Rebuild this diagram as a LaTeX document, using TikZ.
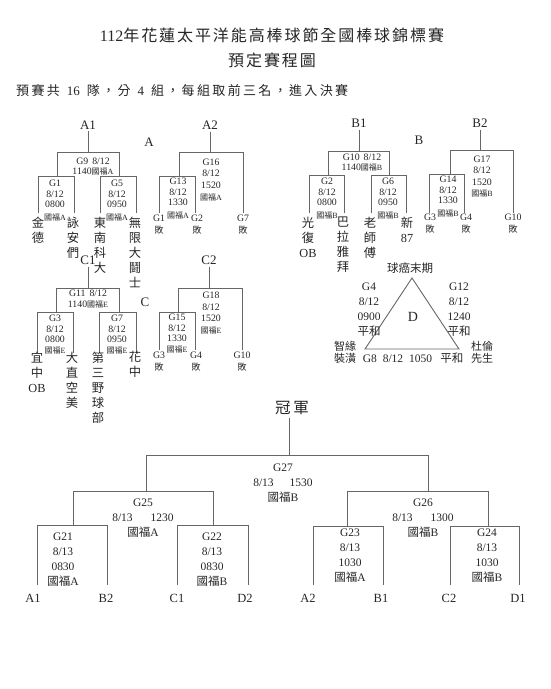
\documentclass[tikz,border=0pt]{standalone}
\usepackage{fontspec}
\setmainfont{Liberation Serif}
\newfontfamily\cjk{Noto Sans CJK TC}
\newfontfamily\cjkw{Noto Sans CJK TC}[LetterSpace=18]
\newfontfamily\cjkt{Noto Sans CJK TC}[LetterSpace=12]
\newcommand\sz[2]{\fontsize{#1}{#2}\selectfont}
\newcommand\GF[1]{{\cjk 國福}#1}
\newcommand\brk[6]{%
  \coordinate (#1-l) at (#2,#4);
  \coordinate (#1-r) at (#3,#4);
  \coordinate (#1-lb) at (#2,#5);
  \coordinate (#1-rb) at (#3,#6);
  \draw[ln] (#1-lb) -- (#1-l) -- (#1-r) -- (#1-rb);}
\newcommand\bai{{\cjk\sz{9}{12}敗}}
\begin{document}
\begin{tikzpicture}[x=1pt,y=-1pt,
  every node/.style={inner sep=0pt,text=black!85},
  ln/.style={draw=black!60,line width=0.9pt},
  gm/.style={font=\sz{9.8}{10.7},align=center,anchor=north},
  gs/.style={font=\sz{9.8}{12},align=center,anchor=north},
  tm/.style={font={\cjk\sz{12.3}{15}},align=center,anchor=north},
  fin/.style={font=\sz{11.5}{15},align=center,anchor=north},
  lab/.style={font=\sz{12.5}{14}},
  grp/.style={font=\sz{13}{15}},
  dt/.style={font=\sz{11.5}{14.7},align=center,anchor=north}]
\useasboundingbox[fill=white] (0,0) rectangle (550,689);

% titles
\node[font=\sz{16}{18}] (t1) at (272,35) {112{\cjkt 年花蓮太平洋能高棒球節全國棒球錦標賽}};
\node[font={\cjkt\sz{16}{18}}] (t2) at (272,60) {預定賽程圖};
\node[font={\cjkw\sz{13}{15}},anchor=west] (t3) at (16,91) {預賽共\hspace{7pt}{\rmfamily 16}\hspace{7pt}隊，分\hspace{7pt}{\rmfamily 4}\hspace{7pt}組，每組取前三名，進入決賽};

% ---------------- group A
\node[grp] (A1) at (88,125) {A1};
\node[grp] (A) at (149,142) {A};
\brk{G9}{57}{119}{152}{176}{176}
\draw[ln,shorten <=2pt] (A1.south) -- (A1.south |- G9-l);
\brk{G1}{38}{74}{176}{213}{213}
\brk{G5}{100}{136}{176}{213}{213}
\node[gm] (g9) at (93,157.5) {G9\hspace{4pt}8/12\\1140{\sz{8}{9}\GF{A}}};
\node[gm] (g1) at (55,179.8) {G1\\8/12\\0800\\[1.8pt]{\sz{8}{9}\GF{A}}};
\node[gm] (g5) at (117,179.8) {G5\\8/12\\0950\\[1.8pt]{\sz{8}{9}\GF{A}}};
\node[tm] (tJD) at (38,216.5) {金\\德};
\node[tm] (tYA) at (73,216.5) {詠\\安\\們};
\node[tm] (tDN) at (100,216.5) {東\\南\\科\\大};
\node[tm] (tWX) at (135,216.5) {無\\限\\大\\鬪\\士};

\node[grp] (A2) at (210,125) {A2};
\brk{G16}{179}{243}{152}{176}{213}
\draw[ln,shorten <=2pt] (A2.south) -- (A2.south |- G16-l);
\brk{G13}{159}{195}{176}{213}{213}
\node[gm,font=\sz{9.8}{11.3}] (g16) at (211,158.8) {G16\\8/12\\1520\\[0.8pt]{\sz{8}{9}\GF{A}}};
\node[gm] (g13) at (178,177.8) {G13\\8/12\\1330\\[1.8pt]{\sz{8}{9}\GF{A}}};
\node[gs] (la1) at (159,214.8) {G1\\\bai};
\node[gs] (la2) at (197,214.8) {G2\\\bai};
\node[gs] (la7) at (243,214.8) {G7\\\bai};

% ---------------- group B
\node[grp] (B1) at (359,123) {B1};
\node[grp] (B) at (419,140) {B};
\brk{G10}{328}{389}{151}{175}{175}
\draw[ln,shorten <=2pt] (B1.south) -- (B1.south |- G10-l);
\brk{G2}{309}{344}{175}{213}{213}
\brk{G6}{371}{406}{175}{213}{213}
\node[gm] (g10) at (362,153.5) {G10\hspace{4pt}8/12\\1140{\sz{8}{9}\GF{B}}};
\node[gm] (g2) at (327,177.8) {G2\\8/12\\0800\\[1.8pt]{\sz{8}{9}\GF{B}}};
\node[gm] (g6) at (388,177.8) {G6\\8/12\\0950\\[1.8pt]{\sz{8}{9}\GF{B}}};
\node[tm] (tGF) at (308,216.5) {光\\復\\{\rmfamily OB}};
\node[tm] (tBL) at (343,216.5) {巴\\拉\\雅\\拜};
\node[tm] (tLS) at (370,216.5) {老\\師\\傅};
\node[tm] (tX87) at (407,216.5) {新\\{\rmfamily 87}};

\node[grp] (B2) at (480,123) {B2};
\brk{G17}{450}{513}{150}{174}{213}
\draw[ln,shorten <=2pt] (B2.south) -- (B2.south |- G17-l);
\brk{G14}{429}{464}{174}{213}{213}
\node[gm,font=\sz{9.8}{11.3}] (g17) at (482,155.8) {G17\\8/12\\1520\\{\sz{8}{9}\GF{B}}};
\node[gm] (g14) at (448,175.8) {G14\\8/12\\1330\\[1.8pt]{\sz{8}{9}\GF{B}}};
\node[gs] (lb3) at (430,213.8) {G3\\\bai};
\node[gs] (lb4) at (466,213.8) {G4\\\bai};
\node[gs] (lb10) at (513,213.8) {G10\\\bai};

% ---------------- group C
\node[grp] (C1) at (88,260) {C1};
\node[grp] (C) at (145,302) {C};
\brk{G11}{56}{119}{288}{312}{312}
\draw[ln,shorten <=2pt] (C1.south) -- (C1.south |- G11-l);
\brk{G3}{37}{73}{312}{353}{353}
\brk{G7}{99}{136}{312}{353}{353}
\node[gm] (g11) at (88,289.8) {G11\hspace{4pt}8/12\\1140{\sz{8}{9}\GF{E}}};
\node[gm] (g3) at (55,314.8) {G3\\8/12\\0800\\{\sz{8}{9}\GF{E}}};
\node[gm] (g7) at (117,314.8) {G7\\8/12\\0950\\{\sz{8}{9}\GF{E}}};
\node[tm] (tYZ) at (37,351.5) {宜\\中\\{\rmfamily OB}};
\node[tm] (tDZ) at (72,351.5) {大\\直\\空\\美};
\node[tm] (tDS) at (98,351.5) {第\\三\\野\\球\\部};
\node[tm] (tHZ) at (135,350.5) {花\\中};

\node[grp] (C2) at (209,260) {C2};
\brk{G18}{178}{242}{288}{312}{350}
\draw[ln,shorten <=2pt] (C2.south) -- (C2.south |- G18-l);
\brk{G15}{159}{195}{312}{350}{350}
\node[gm,font=\sz{9.8}{11.7}] (g18) at (211,291.8) {G18\\8/12\\1520\\{\sz{8}{9}\GF{E}}};
\node[gm] (g15) at (177,313.8) {G15\\8/12\\1330\\{\sz{8}{9}\GF{E}}};
\node[gs] (lc3) at (159,351.8) {G3\\\bai};
\node[gs] (lc4) at (196,351.8) {G4\\\bai};
\node[gs] (lc10) at (242,351.8) {G10\\\bai};

% ---------------- group D
\coordinate (Dt) at (412,278);
\coordinate (Dl) at (365,349);
\coordinate (Dr) at (459,349);
\draw[ln] (Dt) -- (Dl) -- (Dr) -- cycle;
\node[font={\cjk\sz{11.5}{14}}] (tQA) at (410,268) {球癌末期};
\node[dt] (g4) at (369,283.1) {G4\\8/12\\0900\\{\cjk 平和}};
\node[dt] (g12) at (459,283.1) {G12\\8/12\\1240\\{\cjk 平和}};
\node[font=\sz{14}{16}] (Dn) at (413,317) {D};
\node[font={\cjk\sz{11}{12}},align=center] (tZY) at (345,352.5) {智緣\\裝潢};
\node[font=\sz{11.5}{14}] (g8) at (413,358) {G8\hspace{6pt}8/12\hspace{6pt}1050\hspace{8pt}{\cjk 平和}};
\node[font={\cjk\sz{11}{12}},align=center] (tDL) at (482,352.5) {杜倫\\先生};

% ---------------- finals
\node[font={\cjkw\sz{15.5}{18}}] (champ) at (292,408) {冠軍};
\brk{G27}{146}{428}{455}{491}{491}
\coordinate (G27-m) at (289,455);
\draw[ln,shorten <=3pt] (G27-m |- champ.south) -- (G27-m);
\brk{G25}{73}{213}{491}{525}{525}
\brk{G26}{347}{488}{491}{526}{526}
\brk{G21}{37}{107}{525}{585}{585}
\brk{G22}{177}{248}{525}{585}{585}
\brk{G23}{313}{383}{526}{585}{585}
\brk{G24}{450}{519}{526}{585}{585}
\node[fin] (g27) at (283,464) {G27\\8/13\hspace{16pt}1530\\\GF{B}};
\node[fin] (g25) at (143,499) {G25\\8/13\hspace{18pt}1230\\\GF{A}};
\node[fin] (g26) at (423,499) {G26\\8/13\hspace{18pt}1300\\\GF{B}};
\node[fin] (g21) at (63,533) {G21\\8/13\\0830\\\GF{A}};
\node[fin] (g22) at (212,533) {G22\\8/13\\0830\\\GF{B}};
\node[fin] (g23) at (350,529) {G23\\8/13\\1030\\\GF{A}};
\node[fin] (g24) at (487,529) {G24\\8/13\\1030\\\GF{B}};
\node[lab] (fA1) at (33,598) {A1};
\node[lab] (fB2) at (106,598) {B2};
\node[lab] (fC1) at (177,598) {C1};
\node[lab] (fD2) at (245,598) {D2};
\node[lab] (fA2) at (308,598) {A2};
\node[lab] (fB1) at (381,598) {B1};
\node[lab] (fC2) at (449,598) {C2};
\node[lab] (fD1) at (518,598) {D1};
\end{tikzpicture}
\end{document}
